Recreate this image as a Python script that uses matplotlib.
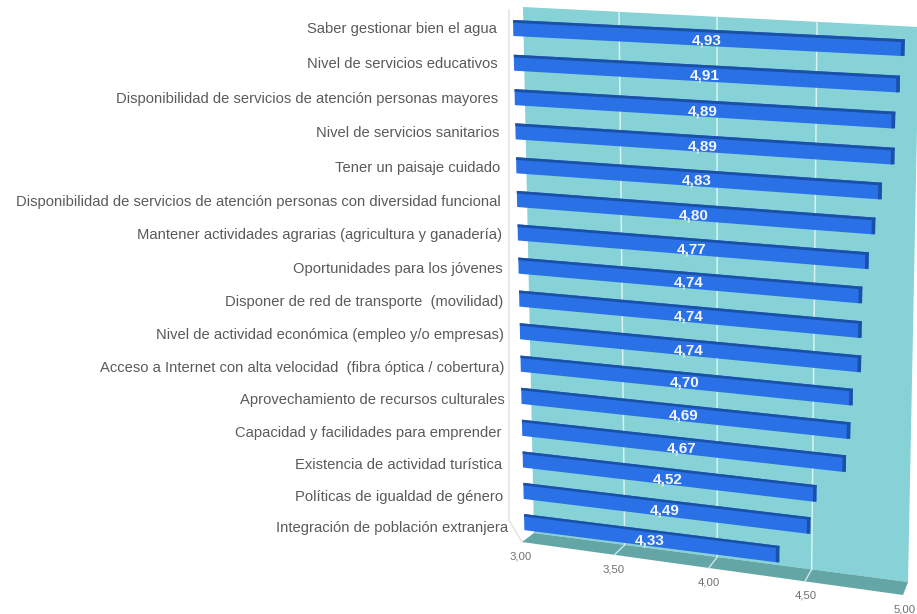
import numpy as np
import matplotlib
matplotlib.use("Agg")
import matplotlib.pyplot as plt

categories = ["Saber gestionar bien el agua ", "Nivel de servicios educativos ",
              "Disponibilidad de servicios de atención personas mayores ",
              "Nivel de servicios sanitarios ", "Tener un paisaje cuidado ",
              "Disponibilidad de servicios de atención personas con diversidad funcional ",
              "Mantener actividades agrarias (agricultura y ganadería) ",
              "Oportunidades para los jóvenes ", "Disponer de red de transporte  (movilidad) ",
              "Nivel de actividad económica (empleo y/o empresas) ",
              "Acceso a Internet con alta velocidad  (fibra óptica / cobertura) ",
              "Aprovechamiento de recursos culturales ",
              "Capacidad y facilidades para emprender  ", "Existencia de actividad turística  ",
              "Políticas de igualdad de género  ", "Integración de población extranjera "]
values = [4.93, 4.91, 4.89, 4.89, 4.83, 4.80, 4.77, 4.74, 4.74, 4.74, 4.70, 4.69, 4.67, 4.52, 4.49, 4.33]
ticks = [3.0, 3.5, 4.0, 4.5, 5.0]

plt.rcParams['font.family'] = ['Liberation Sans', 'DejaVu Sans']

last = len(values) - 1
# corners of each plane: top left, top right, bottom left, bottom right
BARS = [(513, 20), (919, 40), (524, 514), (908, 562)]
WALL = [(523, 7), (919, 27), (534, 533), (908, 582)]
FLOOR = [(534, 533), (908, 582), (522, 542), (903, 595)]


def bilinear(corners, u, w):
    u, w = np.broadcast_arrays(np.atleast_1d(np.asarray(u, float)), np.atleast_1d(np.asarray(w, float)))
    c = np.array(corners, float)
    x = (1 - w) * ((1 - u) * c[0, 0] + u * c[1, 0]) + w * ((1 - u) * c[2, 0] + u * c[3, 0])
    y = (1 - w) * ((1 - u) * c[0, 1] + u * c[1, 1]) + w * ((1 - u) * c[2, 1] + u * c[3, 1])
    return x, y


def on_bars(v, row):
    # rows get a bit closer together towards the bottom
    f = np.asarray(row, float) / last
    return bilinear(BARS, (np.asarray(v, float) - 3) / 2, 1.057 * f - 0.057 * f ** 2)


def on_plane(corners, v, w):
    u = (np.asarray(v, float) - 3) / 2
    return bilinear(corners, 0.96 * u + 0.04 * u ** 2, w)


fig = plt.figure(figsize=(9.17, 6.14), dpi=100)
ax = fig.add_axes([0, 0, 1, 1])
ax.set_xlim(0, 917)
ax.set_ylim(614, 0)
ax.axis("off")

# back wall and floor
wx, wy = on_plane(WALL, [3, 5, 5, 3], [0, 0, 1, 1])
ax.fill(wx, wy, color="#86d2d7", lw=0, zorder=1)
fx, fy = on_plane(FLOOR, [3, 5, 5, 3], [0, 0, 1, 1])
ax.fill(fx, fy, color="#64a6a6", lw=0, zorder=1)

# grid and tick labels
for t in ticks[1:-1]:
    gx, gy = on_plane(WALL, [t, t], [0, 1])
    ax.plot(gx, gy, color="#d8f2f2", lw=1.1, zorder=2)
    gx, gy = on_plane(FLOOR, [t, t], [0, 1])
    ax.plot(gx, gy, color="#cfe6e6", lw=1.0, zorder=2)
for t in ticks:
    gx, gy = on_plane(FLOOR, t, 1)
    ax.text(gx[0] - 1 + 3 * ((t - 3) / 2) ** 2, gy[0] + 14.5, f"{t:.2f}".replace(".", ","),
            ha="center", va="center", fontsize=8.2, color="#707070", zorder=6)

# pale axis line at the left
ax.plot([509, 509, 522], [10, 520, 542], color="#e8e5e0", lw=1.2, zorder=1)

top = 0.08
for i, (cat, val) in enumerate(zip(categories, values)):
    r = float(i)
    thick = 0.46 + 0.06 * i / last
    # front face
    bx, by = on_bars([3, val, val, 3], [r, r, r + thick, r + thick])
    ax.fill(bx, by, color="#2a70e6", lw=0, zorder=4)
    # top edge
    bx, by = on_bars([3, val, val, 3], [r, r, r + top, r + top])
    ax.fill(bx, by, color="#1a50a6", lw=0, zorder=5)
    # right end
    bx, by = on_bars([val - 0.018, val, val, val - 0.018],
                     [r + 0.02, r, r + thick - 0.02, r + thick])
    ax.fill(bx, by, color="#1a50a6", lw=0, zorder=5)
    # value label on the middle of the bar
    lx, ly = on_bars((3 + val) / 2, r + thick / 2)
    ax.text(lx[0] - 2, ly[0] + 2.5, f"{val:.2f}".replace(".", ","), ha="center", va="center",
            fontsize=11, fontweight="bold", color="#f2f6fb", zorder=7)
    # category label left of the bar
    cx, cy = on_bars(3, 0.23 + r)
    ax.text(cx[0] - 12, cy[0] + 1.5 + 3.5 * i / last + 2 * (i / last) ** 2, cat, ha="right", va="center",
            fontsize=10.65, color="#5a5a5a", zorder=6)

fig.savefig("out.png", dpi=100, facecolor="white")
